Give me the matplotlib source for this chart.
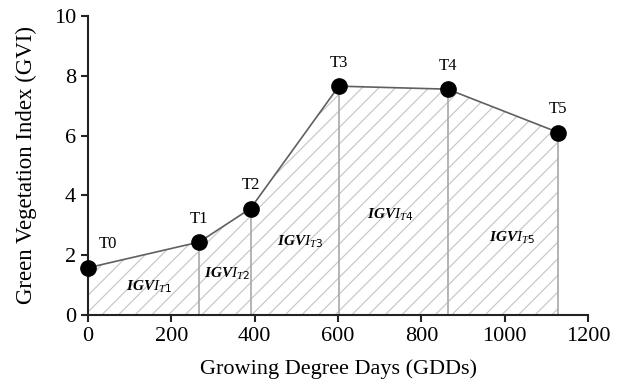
import matplotlib
matplotlib.use("Agg")
import matplotlib.pyplot as plt

gdd = [0, 267, 390, 602, 863, 1129]
gvi = [1.58, 2.44, 3.56, 7.65, 7.55, 6.1]
point_labels = ["T0", "T1", "T2", "T3", "T4", "T5"]
area_labels = [r"$\boldsymbol{IGVI_{T1}}$", r"$\boldsymbol{IGVI_{T2}}$", r"$\boldsymbol{IGVI_{T3}}$",
               r"$\boldsymbol{IGVI_{T4}}$", r"$\boldsymbol{IGVI_{T5}}$"]
area_x = [146, 334, 509, 725, 1018]
area_y = [0.93, 1.37, 2.43, 3.33, 2.57]

plt.rcParams['font.family'] = ['Liberation Serif', 'DejaVu Serif']
plt.rcParams['mathtext.fontset'] = 'custom'
plt.rcParams['mathtext.it'] = 'Liberation Serif:italic'
plt.rcParams['mathtext.bf'] = 'Liberation Serif:bold'
plt.rcParams['mathtext.bfit'] = 'Liberation Serif:bold:italic'
plt.rcParams['hatch.linewidth'] = 0.8
plt.rcParams['hatch.color'] = '#c4c4c4'

fig = plt.figure(figsize=(6.3, 3.87), dpi=100)
ax = fig.add_axes([0.1397, 0.186, 0.7937, 0.773])

ax.fill_between(gdd, gvi, 0, facecolor='none', hatch='//', edgecolor='#c4c4c4', linewidth=0)
for x, y in zip(gdd[1:], gvi[1:]):
    ax.plot([x, x], [0, y], color='#a8a8a8', lw=1.2, zorder=2)
ax.plot(gdd, gvi, color='#606060', lw=1.2, zorder=3)
ax.plot(gdd, gvi, 'o', color='black', ms=11, zorder=4, clip_on=False)

for i, (x, y, t) in enumerate(zip(gdd, gvi, point_labels)):
    dx = 14 if i == 0 else 0
    ax.annotate(t, (x, y), xytext=(dx, 11), textcoords='offset points',
                ha='center', va='bottom', fontsize=12)

for x, y, t in zip(area_x, area_y, area_labels):
    ax.text(x, y, t, ha='center', va='center', fontsize=11)

ax.set_xlim(0, 1200)
ax.set_ylim(0, 10)
ax.set_xticks(range(0, 1201, 200))
ax.set_yticks(range(0, 11, 2))
ax.spines['top'].set_visible(False)
ax.spines['right'].set_visible(False)
for s in ['left', 'bottom']:
    ax.spines[s].set_linewidth(1.5)
    ax.spines[s].set_color('#222222')
ax.tick_params(axis='both', labelsize=16, width=1.5, length=5, color='#222222', direction='out')
ax.set_xlabel("Growing Degree Days (GDDs)", fontsize=16, labelpad=10)
ax.set_ylabel("Green Vegetation Index (GVI)", fontsize=16.5, labelpad=12)

fig.savefig("out.png", dpi=100)
